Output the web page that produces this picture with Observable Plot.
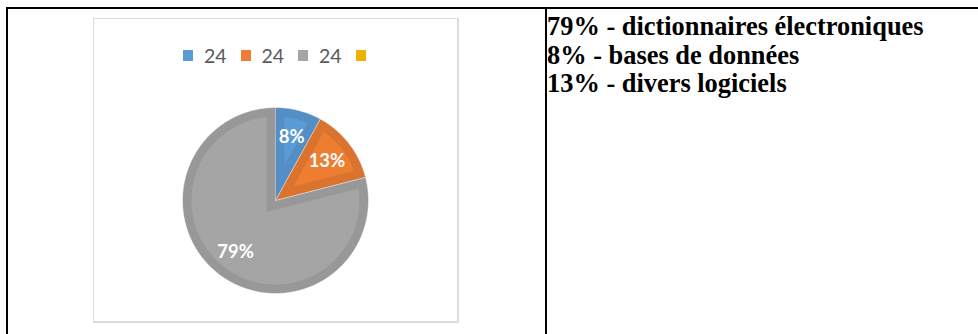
<!DOCTYPE html>
<html>
<head>
<meta charset="utf-8">
<script src="https://cdn.jsdelivr.net/npm/d3@7"></script>
<script src="https://cdn.jsdelivr.net/npm/@observablehq/plot@0.6"></script>
<style>
  html, body { margin: 0; padding: 0; background: #fff; }
  body { width: 978px; height: 334px; overflow: hidden; position: relative; }
  .ln { position: absolute; background: #000; }
  #box { position: absolute; left: 93px; top: 18px; width: 363px; height: 302px; border: 2px solid #dcdcdc; border-width: 1.5px 2px 2px 1.5px; box-sizing: content-box; }
  .leg { position: absolute; font-family: Lato, "Open Sans", sans-serif; font-size: 19.5px; color: #595959; line-height: 20px; }
  .sw { position: absolute; width: 10px; height: 11px; }
  #pie { position: absolute; left: 175px; top: 100px; }
  #txt { position: absolute; left: 547px; top: 12px; font-family: "Liberation Serif", "Times New Roman", serif; font-weight: bold; font-size: 26.4px; line-height: 28.5px; color: #000; white-space: nowrap; }
</style>
</head>
<body>
<div class="ln" style="left:6px;top:7px;width:972px;height:2px"></div>
<div class="ln" style="left:6px;top:7px;width:2px;height:327px"></div>
<div class="ln" style="left:545px;top:7px;width:2px;height:327px"></div>
<div id="box"></div>
<div id="legend"></div>
<div id="pie"></div>
<div id="txt"></div>
<script>
// ---- data ----
const sliceKeys = ["a", "b", "c"];
const sliceValues = [8, 13, 79];
const sliceLabels = ["8%", "13%", "79%"];
const sliceColors = ["#5B9BD5", "#ED7D31", "#A5A5A5"];

const legendLabels = ["24", "24", "24", ""];
const legendColors = ["#5B9BD5", "#ED7D31", "#A5A5A5", "#EDB300"];

const textLines = [
  "79% - dictionnaires électroniques",
  "8% - bases de données",
  "13% - divers logiciels"
];

// ---- legend ----
const legend = document.getElementById("legend");
legendLabels.forEach((lab, i) => {
  const x0 = 183 + i * 57.5;
  const sw = document.createElement("div");
  sw.className = "sw";
  sw.style.left = x0 + "px";
  sw.style.top = "50px";
  sw.style.background = legendColors[i];
  legend.appendChild(sw);
  if (lab) {
    const t = document.createElement("div");
    t.className = "leg";
    t.style.left = (x0 + 21) + "px";
    t.style.top = "46px";
    t.textContent = lab;
    legend.appendChild(t);
  }
});

// ---- right text ----
document.getElementById("txt").innerHTML = textLines.map(s => `<div>${s}</div>`).join("");

// ---- pie ----
const slices = sliceKeys.map((k, i) => ({key: k, value: sliceValues[i], label: sliceLabels[i]}));
const R = 93, BAND = 9;
const arcs = d3.pie().sort(null).value(d => d.value)(slices);
const full = [], inner = [], labels = [];
arcs.forEach(p => {
  const key = p.data.key;
  const a0 = p.startAngle, a1 = p.endAngle;
  const n = Math.max(4, Math.ceil((a1 - a0) / 0.02));
  full.push({key, x: 0, y: 0});
  for (let k = 0; k <= n; k++) {
    const a = a0 + (a1 - a0) * k / n;
    full.push({key, x: Math.sin(a), y: Math.cos(a)});
  }
  const d = BAND / R, rr = 1 - d, half = (a1 - a0) / 2, mid = (a0 + a1) / 2;
  const apex = d / Math.abs(Math.sin(half));
  const delta = Math.asin(d / rr);
  inner.push({key, x: apex * Math.sin(mid), y: apex * Math.cos(mid)});
  const b0 = a0 + delta, b1 = a1 - delta;
  for (let k = 0; k <= n; k++) {
    const a = b0 + (b1 - b0) * k / n;
    inner.push({key, x: rr * Math.sin(a), y: rr * Math.cos(a)});
  }
  labels.push({key, label: p.data.label, x: 0.7 * Math.sin(mid), y: 0.7 * Math.cos(mid)});
});

const chart = Plot.plot({
  width: 200, height: 200, margin: 7,
  style: {background: "transparent", overflow: "visible"},
  x: {domain: [-1, 1], axis: null},
  y: {domain: [-1, 1], axis: null},
  color: {domain: sliceKeys, range: sliceColors},
  marks: [
    Plot.line(full, {x: "x", y: "y", z: "key", fill: "key", stroke: "#fff", strokeWidth: 0.6, curve: "linear"}),
    Plot.line(full, {x: "x", y: "y", z: "key", fill: "#000", fillOpacity: 0.08, stroke: "none", curve: "linear"}),
    Plot.line(inner, {x: "x", y: "y", z: "key", fill: "key", stroke: "none", curve: "linear"}),
    Plot.text(labels, {x: "x", y: "y", text: "label", fill: "#fff", fontSize: 18.5, fontWeight: "bold", fontFamily: "Lato, sans-serif"})
  ]
});
document.getElementById("pie").appendChild(chart);
</script>
</body>
</html>
